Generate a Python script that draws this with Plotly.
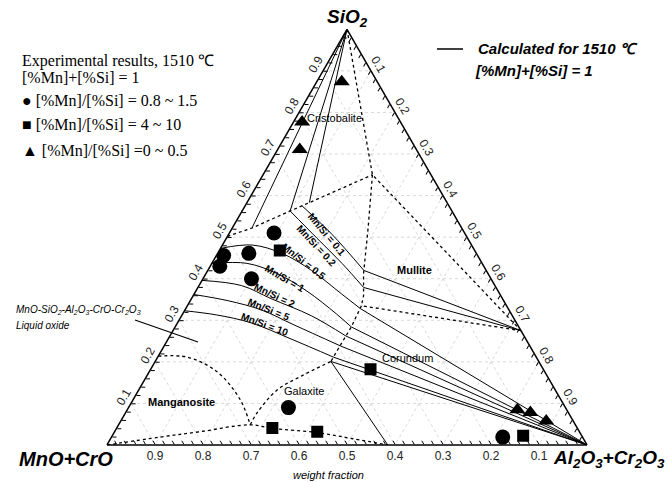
import plotly.graph_objects as go

# ---------------- data (a = SiO2, b = MnO+CrO, c = Al2O3+Cr2O3) ----------------
# experimental points
circle_a = [0.510, 0.456, 0.430, 0.461, 0.400, 0.090, 0.019]
circle_b = [0.397, 0.529, 0.550, 0.474, 0.499, 0.577, 0.166]
circle_c = [0.093, 0.015, 0.020, 0.065, 0.101, 0.333, 0.815]

square_a = [0.468, 0.182, 0.041, 0.032, 0.022]
square_b = [0.406, 0.360, 0.635, 0.546, 0.122]
square_c = [0.126, 0.458, 0.324, 0.422, 0.856]

triangle_a = [0.874, 0.777, 0.711, 0.085, 0.078, 0.058]
triangle_b = [0.074, 0.205, 0.243, 0.1025, 0.079, 0.056]
triangle_c = [0.052, 0.018, 0.046, 0.8125, 0.843, 0.886]

# special compositions
apex_sio2 = (1.0, 0.0, 0.0)
corner_mno = (0.0, 1.0, 0.0)
corner_al2o3 = (0.0, 0.0, 1.0)
mullite_pt = (0.275, 0.0, 0.725)
galaxite_pt = (0.0, 0.415, 0.585)
t1 = (0.650, 0.122, 0.228)
t2 = (0.335, 0.3025, 0.3625)
t3 = (0.201, 0.433, 0.366)
eut = (0.0485, 0.677, 0.274)

# phase boundaries
cristobalite_boundary = [(0.502, 0.498, 0.0), (0.522, 0.437, 0.041), (0.563, 0.337, 0.100),
                         (0.583, 0.287, 0.130), t1]
sio2_tie_ends = [(0.522, 0.437, 0.041), (0.563, 0.337, 0.100), (0.583, 0.287, 0.130)]
mullite_boundary = [t1, (0.522, 0.195, 0.283), (0.413, 0.259, 0.328), (0.359, 0.286, 0.355), t2]
mullite_tie_ends = [t1, t2]
corundum_boundary = [t2, (0.284, 0.349, 0.367), (0.231, 0.403, 0.366), t3]
galaxite_dome = [eut, (0.078, 0.648, 0.274), (0.1335, 0.578, 0.289), (0.165, 0.514, 0.321), t3]
manganosite_dome = [(0.2136, 0.7864, 0.0), (0.211, 0.726, 0.063), (0.175, 0.682, 0.143),
                    (0.109, 0.668, 0.223), eut]
bottom_boundary = [corner_mno, (0.019, 0.880, 0.101), (0.032, 0.790, 0.178), eut,
                   (0.040, 0.636, 0.324), (0.030, 0.548, 0.422), (0.015, 0.480, 0.505), galaxite_pt]

# calculated Mn/Si iso-lines (liquid part, then straight tie part)
mnsi_01 = [(0.575, 0.306, 0.119), (0.507, 0.278, 0.215), (0.420, 0.255, 0.325)]
mnsi_02 = [(0.563, 0.337, 0.100), (0.4976, 0.314, 0.189), (0.437, 0.292, 0.271), (0.379, 0.276, 0.345)]
mnsi_05 = [(0.473, 0.527, 0.0), (0.481, 0.457, 0.062), (0.461, 0.405, 0.134), (0.420, 0.364, 0.216),
           (0.364, 0.330, 0.306), (0.328, 0.308, 0.364)]
mnsi_1 = [(0.437, 0.563, 0.0), (0.437, 0.490, 0.073), (0.4126, 0.440, 0.147), (0.371, 0.399, 0.230),
          (0.3155, 0.3645, 0.320), (0.284, 0.349, 0.367)]
mnsi_2 = [(0.396, 0.604, 0.0), (0.3835, 0.528, 0.0885), (0.352, 0.482, 0.166), (0.311, 0.419, 0.270),
          (0.262, 0.371, 0.367)]
mnsi_5 = [(0.362, 0.638, 0.0), (0.347, 0.574, 0.079), (0.325, 0.516, 0.159), (0.289, 0.466, 0.245),
          (0.238, 0.394, 0.368)]
mnsi_10 = [(0.323, 0.677, 0.0), (0.313, 0.616, 0.071), (0.294, 0.553, 0.153), (0.255, 0.489, 0.256),
           (0.211, 0.422, 0.367)]
mnsi_to_mullite = [mnsi_01, mnsi_02]
mnsi_to_corundum = [mnsi_05, mnsi_1, mnsi_2, mnsi_5, mnsi_10]
mnsi_labels = ["Mn/Si = 0.1", "Mn/Si = 0.2", "Mn/Si = 0.5", "Mn/Si = 1", "Mn/Si = 2", "Mn/Si = 5", "Mn/Si = 10"]

tick_step = [round(0.02 * i, 2) for i in range(1, 50)]
tick_text = [("%.1f" % v) if i % 5 == 0 else "" for i, v in enumerate(tick_step, start=1)]
grid_vals = [round(0.1 * i, 1) for i in range(1, 10)]

# ---------------- figure ----------------
W, H = 669, 482
SANS = "Liberation Sans, Arial, sans-serif"
SERIF = "Liberation Serif, Times New Roman, serif"


def P(x, y):
    return x / W, 1 - y / H


def tern(points, dash="solid", width=1.0, shape="linear", color="black"):
    return go.Scatterternary(
        a=[p[0] for p in points], b=[p[1] for p in points], c=[p[2] for p in points],
        mode="lines", line=dict(color=color, width=width, dash=dash, shape=shape),
        hoverinfo="skip", showlegend=False)


fig = go.Figure()

# grid
for v in grid_vals:
    for seg in ([(v, 1 - v, 0), (v, 0, 1 - v)], [(1 - v, v, 0), (0, v, 1 - v)], [(1 - v, 0, v), (0, 1 - v, v)]):
        fig.add_trace(tern(seg, dash="dot", width=0.8, color="#cfcfcf"))

# phase boundaries
for end in sio2_tie_ends:
    fig.add_trace(tern([apex_sio2, end], width=1.0))
fig.add_trace(tern([apex_sio2, t1], dash="dot", width=1.3))
fig.add_trace(tern(cristobalite_boundary, dash="dot", width=1.3))
fig.add_trace(tern(mullite_boundary, dash="dot", width=1.3))
for end in mullite_tie_ends:
    fig.add_trace(tern([mullite_pt, end], dash="dot", width=1.3))
fig.add_trace(tern(corundum_boundary, dash="dot", width=1.3))
fig.add_trace(tern([t3, corner_al2o3], width=1.0))
fig.add_trace(tern([t3, galaxite_pt], width=1.0))
fig.add_trace(tern(galaxite_dome, dash="dot", width=1.3, shape="spline"))
fig.add_trace(tern(manganosite_dome, dash="dot", width=1.3, shape="spline"))
fig.add_trace(tern(bottom_boundary, dash="dot", width=1.3, shape="spline"))

# Mn/Si lines
for line in mnsi_to_mullite:
    fig.add_trace(tern(line, width=1.0, shape="spline"))
    fig.add_trace(tern([line[-1], mullite_pt], width=1.0))
for line in mnsi_to_corundum:
    fig.add_trace(tern(line, width=1.0, shape="spline"))
    fig.add_trace(tern([line[-1], corner_al2o3], width=1.0))

# experimental points
fig.add_trace(go.Scatterternary(a=circle_a, b=circle_b, c=circle_c, mode="markers",
                                marker=dict(symbol="circle", size=15, color="black"),
                                hoverinfo="skip", showlegend=False))
fig.add_trace(go.Scatterternary(a=square_a, b=square_b, c=square_c, mode="markers",
                                marker=dict(symbol="square", size=12, color="black"),
                                hoverinfo="skip", showlegend=False))
fig.add_trace(go.Scatterternary(a=triangle_a, b=triangle_b, c=triangle_c, mode="markers",
                                marker=dict(symbol="triangle-up", size=14, color="black"),
                                hoverinfo="skip", showlegend=False))

axis_common = dict(
    tickmode="array", tickvals=tick_step, ticktext=tick_text, ticks="inside", ticklen=4,
    tickcolor="black", linecolor="black", linewidth=1.5, showgrid=False, min=0,
    tickfont=dict(family=SANS, size=12, color="#222222"), title=dict(text=""),
)

fig.update_layout(
    width=W, height=H, margin=dict(l=0, r=0, t=0, b=0),
    paper_bgcolor="white", plot_bgcolor="white", showlegend=False,
    ternary=dict(
        sum=1, bgcolor="white",
        domain=dict(x=[107 / W, 587 / W], y=[1 - 445 / H, 1 - 29.3 / H]),
        aaxis=dict(axis_common, tickangle=-60),
        baxis=dict(axis_common),
        caxis=dict(axis_common, tickangle=60),
    ),
)

anns = []


def ann(text, x, y, size, family=SANS, angle=0, xanchor="center", color="black"):
    px, py = P(x, y)
    anns.append(dict(text=text, x=px, y=py, xref="paper", yref="paper", showarrow=False,
                     xanchor=xanchor, yanchor="middle", textangle=angle,
                     font=dict(family=family, size=size, color=color)))


# apex labels
ann("<b><i>SiO<sub>2</sub></i></b>", 348, 18, 19)
ann("<b><i>MnO+CrO</i></b>", 66, 459, 20)
ann("<b><i>Al<sub>2</sub>O<sub>3</sub>+Cr<sub>2</sub>O<sub>3</sub></i></b>", 667, 459, 19, xanchor="right")
ann("<i>weight fraction</i>", 328, 475, 11)

# legends
ann("Experimental results, 1510 \u2103", 20, 61, 16, SERIF, xanchor="left")
ann("[%Mn]+[%Si] = 1", 20, 78, 16, SERIF, xanchor="left")
ann("\u25cf [%Mn]/[%Si] = 0.8 ~ 1.5", 20, 100, 16, SERIF, xanchor="left")
ann("\u25a0 [%Mn]/[%Si] = 4 ~ 10", 20, 125, 16, SERIF, xanchor="left")
ann("\u25b2 [%Mn]/[%Si] =0 ~ 0.5", 20, 150, 16, SERIF, xanchor="left")
ann("<b><i>Calculated for 1510 \u2103</i></b>", 476, 49, 15, xanchor="left")
ann("<b><i>[%Mn]+[%Si] = 1</i></b>", 473, 70, 15, xanchor="left")

# region labels
ann("Cristobalite", 334, 118, 11)
ann("<b>Mullite</b>", 414, 270, 11)
ann("Corundum", 407, 358, 11)
ann("Galaxite", 304, 391, 11)
ann("<b>Manganosite</b>", 181, 402, 11)
ann("<i>MnO-SiO<sub>2</sub>-Al<sub>2</sub>O<sub>3</sub>-CrO-Cr<sub>2</sub>O<sub>3</sub></i>", 14, 310, 10, xanchor="left")
ann("<i>Liquid oxide</i>", 14, 325, 10, xanchor="left")

# Mn/Si labels
label_pos = [(327, 234, 50), (316, 246, 47), (304, 261, 38), (285, 278, 30), (275, 295, 25),
             (269, 309, 22), (265, 324, 20)]
for txt, (x, y, ang) in zip(mnsi_labels, label_pos):
    ann("<b>" + txt + "</b>", x, y, 10, angle=ang)

fig.update_layout(annotations=anns)

# decorative lines (legend key and pointer)
x0, y0 = P(437, 49)
x1, y1 = P(463, 49)
fig.add_shape(type="line", xref="paper", yref="paper", x0=x0, y0=y0, x1=x1, y1=y1,
              line=dict(color="black", width=1.5))
x0, y0 = P(135, 320)
x1, y1 = P(198, 342)
fig.add_shape(type="line", xref="paper", yref="paper", x0=x0, y0=y0, x1=x1, y1=y1,
              line=dict(color="black", width=1.2))

fig.write_html("out.html")
